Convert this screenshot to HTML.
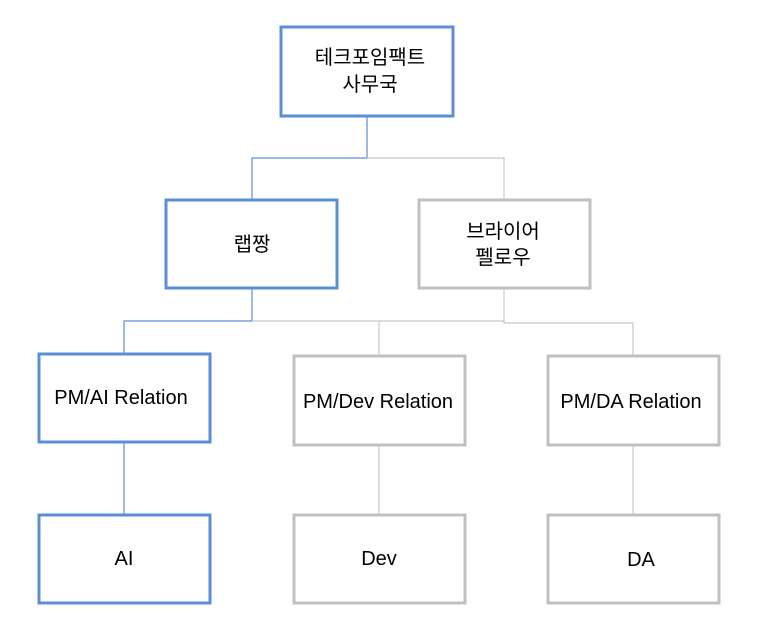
<!DOCTYPE html>
<html><head><meta charset="utf-8"><style>
body{margin:0;background:#fff;}
svg text{font-family:"Liberation Sans","Noto Sans CJK KR",sans-serif;font-size:20px;fill:#000;text-anchor:middle;}
</style></head><body>
<svg width="767" height="638" viewBox="0 0 767 638" xmlns="http://www.w3.org/2000/svg">
<g fill="none" stroke-width="1.2">
<path d="M367 117V158H252V199M252 289V321H124V353M124 443V514" stroke="#5b8fd4"/>
<path d="M367 158H504V199M252 321H504M504 289V323H633V355M379 321V355M379 446V514M633 446V514" stroke="#c8c8c8"/>
</g>
<g fill="#fff" stroke-width="3">
<rect x="281" y="27" width="172" height="89" stroke="#5b8fd4"/>
<rect x="166" y="200" width="171" height="88" stroke="#5b8fd4"/>
<rect x="419" y="200" width="171" height="88" stroke="#c0c0c0"/>
<rect x="39" y="354" width="171" height="88" stroke="#5b8fd4"/>
<rect x="294" y="356" width="171" height="89" stroke="#c0c0c0"/>
<rect x="548" y="356" width="171" height="89" stroke="#c0c0c0"/>
<rect x="39" y="515" width="171" height="88" stroke="#5b8fd4"/>
<rect x="294" y="515" width="171" height="88" stroke="#c0c0c0"/>
<rect x="548" y="515" width="171" height="88" stroke="#c0c0c0"/>
</g>
<text x="370" y="64">테크포임팩트</text>
<text x="370" y="91">사무국</text>
<text x="252" y="251">랩짱</text>
<text x="503" y="238">브라이어</text>
<text x="503" y="264">펠로우</text>
<text x="121" y="404">PM/AI Relation</text>
<text x="378" y="408">PM/Dev Relation</text>
<text x="631" y="408">PM/DA Relation</text>
<text x="124" y="565">AI</text>
<text x="379" y="565">Dev</text>
<text x="641" y="566">DA</text>
</svg>
</body></html>
